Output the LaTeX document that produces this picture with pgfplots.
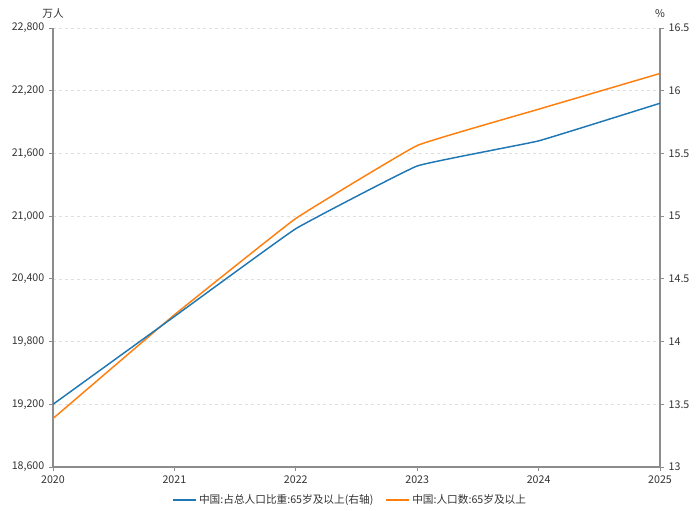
\documentclass[border=0pt]{standalone}
\usepackage{pgfplots}
\pgfplotsset{compat=1.18}
\usepackage{fontspec}
\setmainfont{Noto Sans CJK SC}
\definecolor{cblue}{HTML}{1F77B4}
\definecolor{corange}{HTML}{FF7F0E}
\definecolor{axgray}{HTML}{8C8C8C}
\definecolor{txtgray}{HTML}{333333}
\begin{document}
\begin{tikzpicture}
\pgfplotsset{
  every axis/.append style={
    scale only axis,
    width=455.25pt, height=329.25pt,
    xmin=2020, xmax=2025,
    font=\fontsize{8}{10}\selectfont,
    tick label style={font=\fontsize{8}{10}\selectfont, text=txtgray},
    /pgf/number format/assume math mode=true,
    axis line style={axgray, line width=0.8pt},
    tick style={axgray, line width=0.6pt},
    tick align=outside,
    major tick length=3pt,
    scaled y ticks=false,
    scaled x ticks=false,
  }
}
\begin{axis}[
  name=ax,
  ymin=18600, ymax=22800,
  ytick={18600,19200,19800,20400,21000,21600,22200,22800},
  yticklabel style={/pgf/number format/fixed, /pgf/number format/1000 sep={,}},
  xtick={2020,2021,2022,2023,2024,2025},
  xticklabel style={/pgf/number format/fixed, /pgf/number format/1000 sep={}},
  axis x line*=bottom,
  axis y line*=left,
  ymajorgrids,
  grid style={dash pattern=on 2.5pt off 2pt, gray!25, line width=0.5pt},
  legend style={draw=none, at={(0.49,-0.075)}, anchor=center, legend columns=2,
    font=\fontsize{8}{10}\selectfont, text=txtgray,
    /tikz/every even column/.append style={column sep=7pt}},
  legend cell align=left,
]
\addlegendimage{cblue, line width=1.1pt}
\addlegendentry{中国:占总人口比重:65岁及以上(右轴)}
\addplot[corange, line width=1.1pt, smooth, tension=0.15] coordinates {
(2020,19064) (2021,20056) (2022,20978) (2023,21676) (2024,22023) (2025,22365)};
\addlegendentry{中国:人口数:65岁及以上}
\end{axis}
\begin{axis}[
  ymin=13, ymax=16.5,
  ytick={13,13.5,14,14.5,15,15.5,16,16.5},
  axis x line=none,
  axis y line*=right,
  yticklabel style={/pgf/number format/fixed},
]
\addplot[cblue, line width=1.1pt, smooth, tension=0.15] coordinates {
(2020,13.5) (2021,14.2) (2022,14.9) (2023,15.4) (2024,15.6) (2025,15.9)};
\end{axis}
\node[font=\fontsize{8}{10}\selectfont, text=txtgray] at ([yshift=11pt]ax.north west) {万人};
\node[font=\fontsize{8}{10}\selectfont, text=txtgray] at ([yshift=11pt]ax.north east) {\%};
\path[use as bounding box] ([xshift=-39.75pt,yshift=-32.25pt]ax.south west) rectangle ([xshift=30pt,yshift=21pt]ax.north east);
\end{tikzpicture}
\end{document}
